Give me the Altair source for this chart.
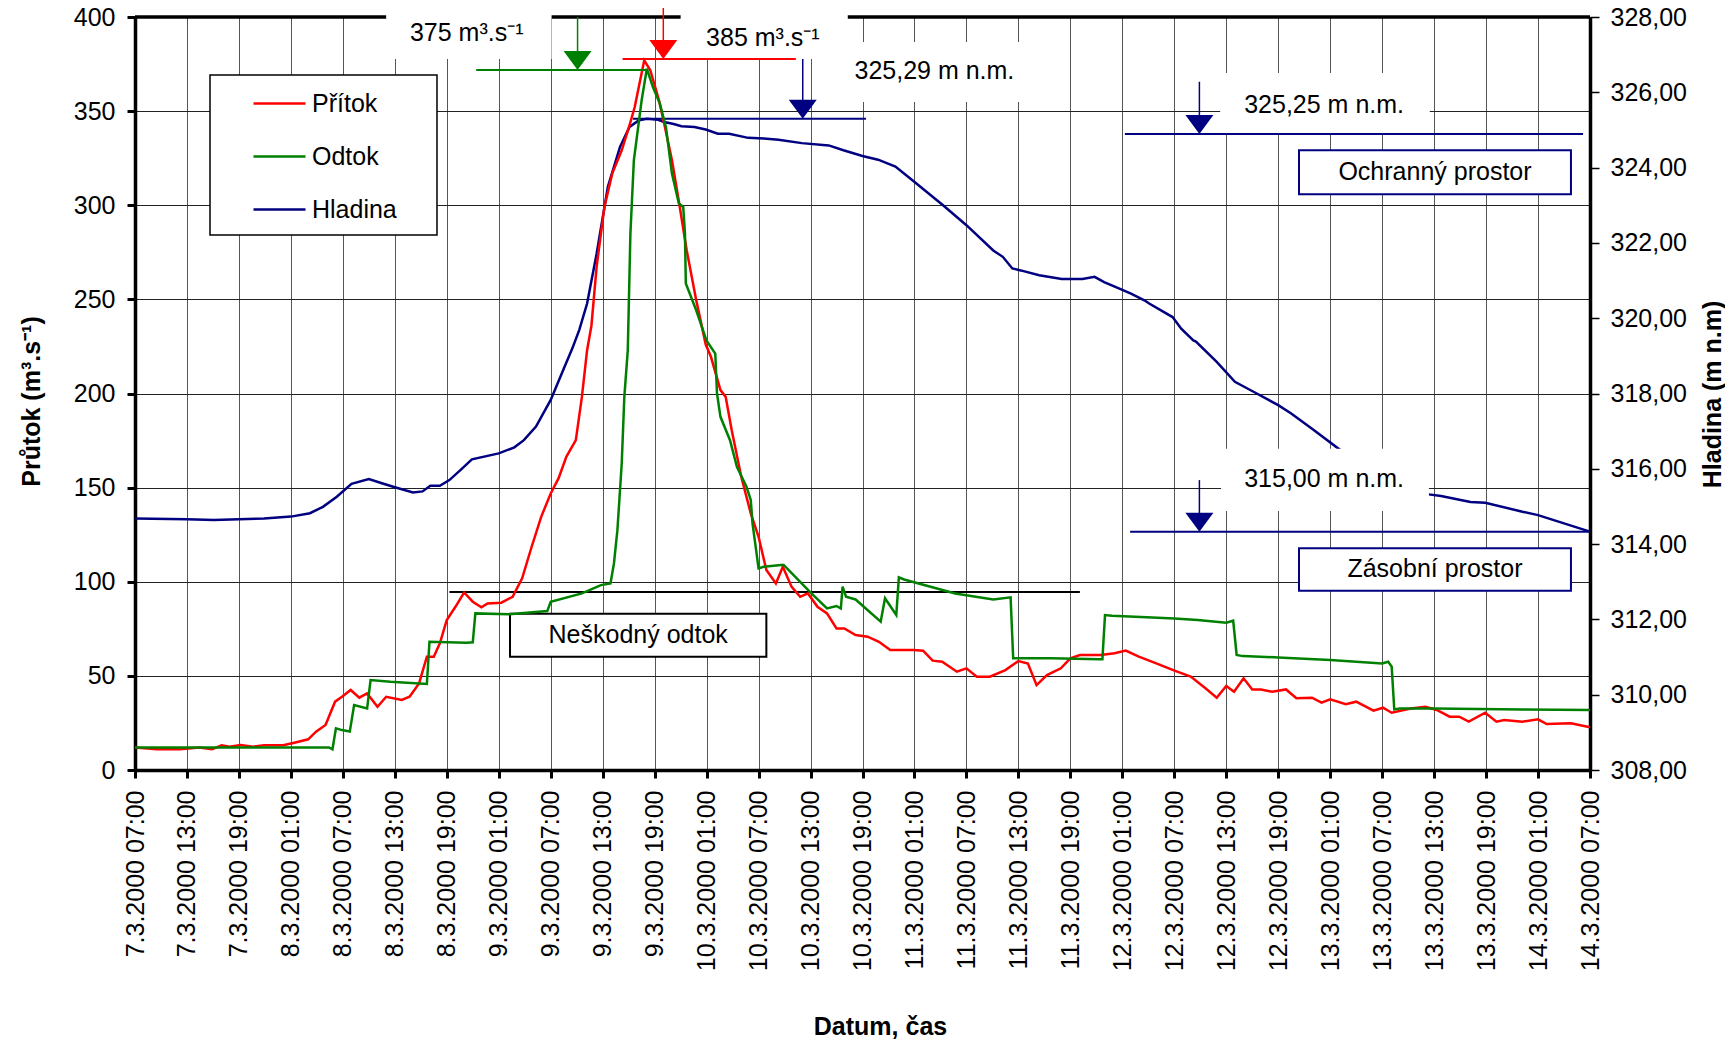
import altair as alt
import pandas as pd

FONT = "Liberation Sans"

# ---------------- data (hours since 7.3.2000 07:00) ----------------
pritok_h = [0, 2.5, 5.2, 7.4, 8.9, 10.0, 10.9, 12.2, 13.6, 14.9, 17.1, 18.4, 20.0, 20.9, 22.0,
            23.1, 23.9, 24.9, 25.9, 26.8, 28.0, 29.0, 30.8, 31.7, 32.8, 33.7, 34.5, 35.2, 36.0,
            37.0, 38.0, 39.0, 40.0, 40.7, 42.3, 43.6, 44.7, 45.8, 46.9, 48.0, 48.9, 49.8, 50.9,
            51.6, 52.2, 52.7, 53.3, 54.2, 55.1, 56.2, 57.1, 57.7, 58.8, 59.5, 60.5, 61.1, 62.0,
            62.8, 63.7, 64.8, 65.9, 66.5, 67.6, 68.2, 68.9, 70.0, 71.1, 72.0, 72.9, 74.0, 74.8,
            75.8, 76.8, 77.7, 78.8, 79.9, 81.0, 81.9, 83.2, 84.6, 85.9, 87.2, 89.9, 91.0, 92.1,
            93.2, 94.9, 96.0, 97.2, 98.7, 100.5, 102.0, 103.1, 104.1, 105.3, 106.9, 108.0, 109.1,
            111.5, 113.1, 114.4, 115.9, 117.7, 120.1, 121.9, 123.6, 124.9, 126.0, 126.9, 128.0,
            129.0, 130.0, 131.3, 132.9, 134.1, 135.9, 137.0, 138.0, 139.8, 141.0, 143.0, 144.1,
            145.1, 147.3, 149.0, 150.3, 151.8, 152.9, 154.0, 155.9, 157.2, 158.1, 160.2, 162.0,
            163.0, 165.8, 168.0]
pritok_q = [12.0, 11.0, 11.0, 12.0, 11.0, 13.1, 12.4, 13.3, 12.4, 13.1, 13.1, 14.5, 16.3, 20.4, 23.9,
            36.3, 38.9, 42.5, 38.4, 40.7, 33.6, 38.9, 37.2, 38.9, 46.0, 60.2, 60.2, 67.3, 79.7,
            86.7, 94.3, 89.4, 86.4, 88.5, 88.9, 92.0, 101.8, 118.6, 134.5, 146.9, 154.9, 166.4, 175.2,
            198.2, 223.0, 236.0, 267.3, 299.1, 316.8, 329.2, 342.5, 352.2, 377.0, 371.7, 355.8, 343.4, 323.9,
            302.0, 276.1, 249.6, 226.0, 219.5, 201.8, 198.2, 180.5, 155.8, 136.3, 123.9, 106.2, 99.1, 108.0,
            97.4, 92.0, 93.8, 86.7, 83.2, 75.2, 75.2, 71.7, 70.8, 68.1, 63.7, 63.7, 63.4, 58.1,
            57.5, 52.2, 54.0, 49.6, 49.6, 53.1, 57.9, 56.6, 45.1, 50.4, 54.0, 59.3, 61.1,
            61.1, 62.0, 63.4, 60.2, 57.0, 52.7, 49.6, 43.4, 38.4, 44.6, 41.6, 48.7,
            42.8, 42.8, 41.6, 42.8, 38.1, 38.4, 35.8, 37.5, 35.0, 36.3, 31.5, 33.1,
            30.4, 32.7, 33.6, 31.9, 28.3, 28.3, 25.7, 30.4, 25.7, 26.6, 25.7, 26.9,
            24.4, 24.8, 22.7]

odtok_h = [0, 22.4, 22.8, 23.2, 23.9, 24.8, 25.3, 26.8, 27.2, 29.5, 33.7, 34.0, 38.3, 39.0, 39.3,
           43.2, 47.6, 48.0, 51.6, 53.8, 54.9, 55.3, 55.7, 56.2, 56.5, 56.9, 57.2, 57.6, 58.5,
           59.1, 59.8, 60.6, 61.3, 62.0, 62.8, 63.3, 63.5, 63.6, 64.8, 66.0, 67.0, 67.2, 67.6,
           68.7, 69.5, 70.6, 71.1, 71.3, 72.0, 72.6, 74.6, 74.9, 77.9, 79.9, 81.0, 81.5, 81.7,
           82.1, 83.2, 86.1, 86.6, 87.9, 88.2, 88.8, 94.7, 99.1, 101.1, 101.4, 105.8, 111.3,
           111.7, 112.0, 112.8, 116.8, 120.0, 122.7, 126.0, 126.8, 127.2, 127.9, 132.0, 138.0,
           144.0, 144.7, 145.1, 145.4, 146.0, 150.0, 160.2, 168.0]
odtok_q = [12.0, 12.0, 11.0, 22.1, 21.2, 20.4, 34.5, 32.7, 47.8, 46.9, 45.7, 68.1, 67.6, 67.8, 83.2,
           82.7, 84.4, 89.4, 93.8, 98.2, 99.1, 109.7, 127.4, 162.8, 198.2, 223.0, 284.9, 323.9, 355.8,
           372.6, 362.8, 354.0, 341.6, 316.8, 300.9, 299.1, 284.9, 258.4, 244.2, 228.0, 221.2, 200.0, 187.6,
           175.2, 161.1, 150.5, 143.4, 131.0, 107.1, 108.0, 108.9, 108.9, 94.7, 85.8, 87.1, 85.8, 97.4,
           92.0, 90.6, 78.8, 91.2, 82.3, 102.3, 101.2, 93.8, 90.6, 91.7, 59.3, 59.3, 58.8,
           58.8, 82.3, 82.0, 81.1, 80.5, 79.7, 78.2, 79.3, 61.1, 60.5, 59.8, 58.4,
           56.6, 57.5, 54.9, 32.2, 32.7, 32.7, 32.2, 31.9]

hladina_h = [0, 6, 9.1, 12, 14.9, 18, 20.2, 21.7, 23.3, 25, 27, 28.6, 30, 32.1, 33.2, 34.1, 35.2,
             36.3, 37.6, 38.9, 42, 43.8, 44.9, 46.3, 48, 49.6, 50.5, 51.3, 52.2, 53.3, 54.6, 56,
             57.1, 58.2, 59.1, 60.4, 61.1, 62.2, 63.1, 64.6, 65.9, 67.3, 68.6, 70.8, 72.6, 74.3,
             77, 80.1, 81.8, 84, 85.8, 87.8, 89.8, 93.3, 96, 99.1, 100.2, 101.3, 102.6, 104.4,
             107, 109.4, 110.8, 111.9, 113.6, 115, 116.6, 117.1, 119.8, 120.8, 122.2, 122.5,
             124.9, 127, 129.2, 132, 133.5, 136.1, 139.1, 143, 146.5, 149.4, 150.8, 154.2,
             155.9, 160.2, 162, 168]
hladina_m = [314.68, 314.66, 314.64, 314.66, 314.68, 314.73, 314.82, 314.99, 315.26, 315.60, 315.73,
             315.61, 315.51, 315.37, 315.40, 315.55, 315.55, 315.70, 315.97, 316.25, 316.41, 316.57,
             316.76, 317.12, 317.83, 318.71, 319.20, 319.69, 320.39, 321.71, 323.49, 324.55,
             325.08, 325.26, 325.30, 325.27, 325.21, 325.16, 325.10, 325.08, 325.01, 324.90, 324.90,
             324.79, 324.77, 324.74, 324.65, 324.59, 324.46, 324.31, 324.21, 324.03, 323.66, 323.00,
             322.47, 321.80, 321.63, 321.32, 321.25, 321.14, 321.04, 321.04, 321.10, 320.96, 320.79,
             320.65, 320.47, 320.39, 320.03, 319.72, 319.41, 319.38, 318.84, 318.31, 318.04, 317.69,
             317.47, 317.03, 316.51, 316.05, 315.62, 315.32, 315.28, 315.12, 315.10, 314.86, 314.77,
             314.33]

tick_hours = list(range(0, 169, 6))
tick_labels = ["7.3.2000 07:00", "7.3.2000 13:00", "7.3.2000 19:00", "8.3.2000 01:00",
               "8.3.2000 07:00", "8.3.2000 13:00", "8.3.2000 19:00", "9.3.2000 01:00",
               "9.3.2000 07:00", "9.3.2000 13:00", "9.3.2000 19:00", "10.3.2000 01:00",
               "10.3.2000 07:00", "10.3.2000 13:00", "10.3.2000 19:00", "11.3.2000 01:00",
               "11.3.2000 07:00", "11.3.2000 13:00", "11.3.2000 19:00", "12.3.2000 01:00",
               "12.3.2000 07:00", "12.3.2000 13:00", "12.3.2000 19:00", "13.3.2000 01:00",
               "13.3.2000 07:00", "13.3.2000 13:00", "13.3.2000 19:00", "14.3.2000 01:00",
               "14.3.2000 07:00"]
flow_ticks = list(range(0, 401, 50))
level_ticks = list(range(308, 329, 2))

series_names = ["Přítok", "Odtok", "Hladina"]
series_colors = ["#ff0000", "#008000", "#000080"]

# annotations (flow units)
neskodny_q = 94.5
neskodny_span = [36.3, 109.1]
odtok_peak_q = 371.8
odtok_peak_span = [39.4, 59.1]
odtok_arrow = {"x": 51.1, "top": 400.0}
pritok_peak_q = 377.7
pritok_peak_span = [56.3, 76.3]
pritok_arrow = {"x": 61.0, "top": 405.8}
# annotations (level units)
max_level = 325.30
max_level_span = [57.5, 84.4]
max_level_arrow = {"x": 77.1, "top": 326.90}
ochranny_level = 324.89
ochranny_span = [114.3, 167.2]
ochranny_arrow = {"x": 122.9, "top": 326.28}
zasobni_level = 314.33
zasobni_span = [114.9, 168.0]
zasobni_arrow = {"x": 122.9, "top": 315.70}

# ---------------- scales / axes ----------------
x_scale = alt.Scale(domain=[0, 168], nice=False, zero=False)
yl_scale = alt.Scale(domain=[0, 400], nice=False, zero=False)
yr_scale = alt.Scale(domain=[308, 328], nice=False, zero=False)

labels_js = "[" + ",".join("'" + t + "'" for t in tick_labels) + "]"

x_axis = alt.Axis(values=tick_hours, labelExpr=labels_js + "[round(datum.value/6)]",
                  labelAngle=270, labelAlign="right", labelBaseline="middle",
                  labelFont=FONT, labelFontSize=25, labelColor="black", labelPadding=12,
                  labelOverlap=False, labelFlush=False, labelBound=False, labelLimit=400,
                  tickSize=8, tickWidth=3, tickColor="black",
                  domainColor="black", domainWidth=3.5,
                  grid=True, gridColor="#555555", gridWidth=1,
                  title="Datum, čas", titleFont=FONT, titleFontSize=25, titleFontWeight="bold",
                  titleColor="black", titleX=745, titleY=256, titleAlign="center",
                  titleBaseline="middle", titleAngle=0)

yl_axis = alt.Axis(orient="left", values=flow_ticks,
                   labelFont=FONT, labelFontSize=25, labelColor="black", labelPadding=12,
                   tickSize=8, tickWidth=3, tickColor="black",
                   domainColor="black", domainWidth=3.5,
                   grid=True, gridColor="#222222", gridWidth=1,
                   title="Průtok (m³.s⁻¹)", titleFont=FONT, titleFontSize=25, titleFontWeight="bold",
                   titleColor="black", titleAngle=270, titleX=-104, titleY=384,
                   titleAlign="center", titleBaseline="middle")

yr_axis = alt.Axis(orient="right", values=level_ticks,
                   labelExpr="replace(format(datum.value, '.2f'), '.', ',')",
                   labelFont=FONT, labelFontSize=25, labelColor="black", labelPadding=11,
                   tickSize=9, tickWidth=1.5, tickColor="black",
                   domainColor="black", domainWidth=3.5, grid=False,
                   title="Hladina (m n.m)", titleFont=FONT, titleFontSize=25, titleFontWeight="bold",
                   titleColor="black", titleAngle=270, titleX=122, titleY=377,
                   titleAlign="center", titleBaseline="middle")

legend = alt.Legend(title=None, orient="none", legendX=117, legendY=59, padding=0,
                    symbolType="stroke", symbolSize=2704, symbolStrokeWidth=2.5,
                    labelFont=FONT, labelFontSize=25, labelColor="black", labelOffset=5,
                    rowPadding=12)
color_scale = alt.Scale(domain=series_names, range=series_colors)


def X(f="x"):
    return alt.X(f + ":Q", scale=x_scale, axis=x_axis)


def YL(f="y"):
    return alt.Y(f + ":Q", scale=yl_scale, axis=yl_axis)


def YR(f="y"):
    return alt.Y(f + ":Q", scale=yr_scale, axis=yr_axis)


def df(**cols):
    return pd.DataFrame({k: (v if isinstance(v, list) else [v]) for k, v in cols.items()})


TRI = "M-1,-0.68L0,0.68L1,-0.68Z"
TRI_OFF_Q = 9.5 / (753 / 400)
TRI_OFF_H = 9.5 / (753 / 20)

# ---------------- flow (left) group ----------------
flow_df = pd.DataFrame({
    "h": pritok_h + odtok_h,
    "v": pritok_q + odtok_q,
    "s": ["Přítok"] * len(pritok_h) + ["Odtok"] * len(odtok_h),
})


def hrule(x0, x1, y, color, w, Yf):
    return alt.Chart(df(x=x0, x2=x1, y=y)).mark_rule(color=color, strokeWidth=w).encode(
        x=X("x"), x2=alt.X2("x2"), y=Yf("y"))


def vrule(x, y0, y1, color, w, Yf):
    return alt.Chart(df(x=x, y=y0, y2=y1)).mark_rule(color=color, strokeWidth=w).encode(
        x=X("x"), y=Yf("y"), y2=alt.Y2("y2"))


def tri(x, y, color, Yf):
    return alt.Chart(df(x=x, y=y)).mark_point(shape=TRI, size=784, filled=True, opacity=1,
                                              color=color, strokeWidth=0).encode(x=X("x"), y=Yf("y"))


def box(x0, x1, y0, y1, Yf, stroke=None, sw=0):
    kw = dict(fill="white", opacity=1)
    if stroke:
        kw.update(stroke=stroke, strokeWidth=sw)
    else:
        kw.update(strokeWidth=0)
    return alt.Chart(df(x=x0, x2=x1, y=y0, y2=y1)).mark_rect(**kw).encode(
        x=X("x"), x2=alt.X2("x2"), y=Yf("y"), y2=alt.Y2("y2"))


def label(x, y, text, Yf):
    return alt.Chart(df(x=x, y=y, t=text)).mark_text(font=FONT, fontSize=25, color="black",
                                                     align="center", baseline="middle").encode(
        x=X("x"), y=Yf("y"), text="t:N")


flow_layers = [
    box(8.66, 34.87, 284.2, 369.2, YL, stroke="black", sw=1.5),   # legend frame
    box(43.3, 72.9, 60.2, 83.0, YL, stroke="black", sw=2),        # Neškodný odtok box
    label(58.1, 71.9, "Neškodný odtok", YL),
    hrule(neskodny_span[0], neskodny_span[1], neskodny_q, "black", 2, YL),
    alt.Chart(flow_df).mark_line(strokeWidth=2.5).encode(
        x=X("h"), y=YL("v"), color=alt.Color("s:N", scale=color_scale, legend=legend)),
    hrule(0, 168, 400, "black", 3.5, YL),                         # plot top border
    box(29.0, 48.1, 377.7, 412, YL),
    box(63.0, 82.3, 377.7, 412, YL),
    box(81.4, 103.3, 354.8, 386.7, YL),
    hrule(odtok_peak_span[0], odtok_peak_span[1], odtok_peak_q, "#008000", 2, YL),
    hrule(pritok_peak_span[0], pritok_peak_span[1], pritok_peak_q, "#ff0000", 2, YL),
    vrule(odtok_arrow["x"], odtok_arrow["top"], odtok_peak_q + TRI_OFF_Q, "#008000", 1.5, YL),
    vrule(pritok_arrow["x"], pritok_arrow["top"], pritok_peak_q + TRI_OFF_Q, "#ff0000", 1.5, YL),
    tri(odtok_arrow["x"], odtok_peak_q + TRI_OFF_Q, "#008000", YL),
    tri(pritok_arrow["x"], pritok_peak_q + TRI_OFF_Q, "#ff0000", YL),
    label(38.3, 391.5, "375 m³.s⁻¹", YL),
    label(72.5, 388.8, "385 m³.s⁻¹", YL),
    label(92.3, 371.3, "325,29 m n.m.", YL),
]

# ---------------- level (right) group ----------------
lev_df = pd.DataFrame({"h": hladina_h, "v": hladina_m, "s": ["Hladina"] * len(hladina_h)})

level_layers = [
    alt.Chart(lev_df).mark_line(strokeWidth=2.5).encode(
        x=X("h"), y=YR("v"), color=alt.Color("s:N", scale=color_scale, legend=legend)),
    hrule(ochranny_span[0], ochranny_span[1], ochranny_level, "#000080", 2, YR),
    box(125.3, 149.5, 324.92, 326.51, YR),
    box(125.4, 149.4, 314.88, 316.53, YR),
    hrule(max_level_span[0], max_level_span[1], max_level, "#000080", 2, YR),
    hrule(zasobni_span[0], zasobni_span[1], zasobni_level, "#000080", 2, YR),
    vrule(max_level_arrow["x"], max_level_arrow["top"], max_level + TRI_OFF_H, "#000080", 1.5, YR),
    vrule(ochranny_arrow["x"], ochranny_arrow["top"], ochranny_level + TRI_OFF_H, "#000080", 1.5, YR),
    vrule(zasobni_arrow["x"], zasobni_arrow["top"], zasobni_level + TRI_OFF_H, "#000080", 1.5, YR),
    tri(max_level_arrow["x"], max_level + TRI_OFF_H, "#000080", YR),
    tri(ochranny_arrow["x"], ochranny_level + TRI_OFF_H, "#000080", YR),
    tri(zasobni_arrow["x"], zasobni_level + TRI_OFF_H, "#000080", YR),
    label(137.3, 325.66, "325,25 m n.m.", YR),
    label(137.3, 315.73, "315,00 m n.m.", YR),
    box(134.4, 165.8, 323.29, 324.46, YR, stroke="#000080", sw=2),
    label(150.1, 323.87, "Ochranný prostor", YR),
    box(134.4, 165.8, 312.76, 313.89, YR, stroke="#000080", sw=2),
    label(150.1, 313.33, "Zásobní prostor", YR),
]

level_group = alt.layer(*level_layers)
flow_group = alt.layer(*flow_layers)

chart = alt.layer(level_group, flow_group).resolve_scale(y="independent").properties(
    width=1455, height=753,
    autosize=alt.AutoSizeParams(type="none"),
    padding={"left": 127, "top": 9, "right": 135, "bottom": 273},
    background="white",
).configure_view(stroke=None)

chart.save("out.html", embed_options={"renderer": "svg", "actions": False})
